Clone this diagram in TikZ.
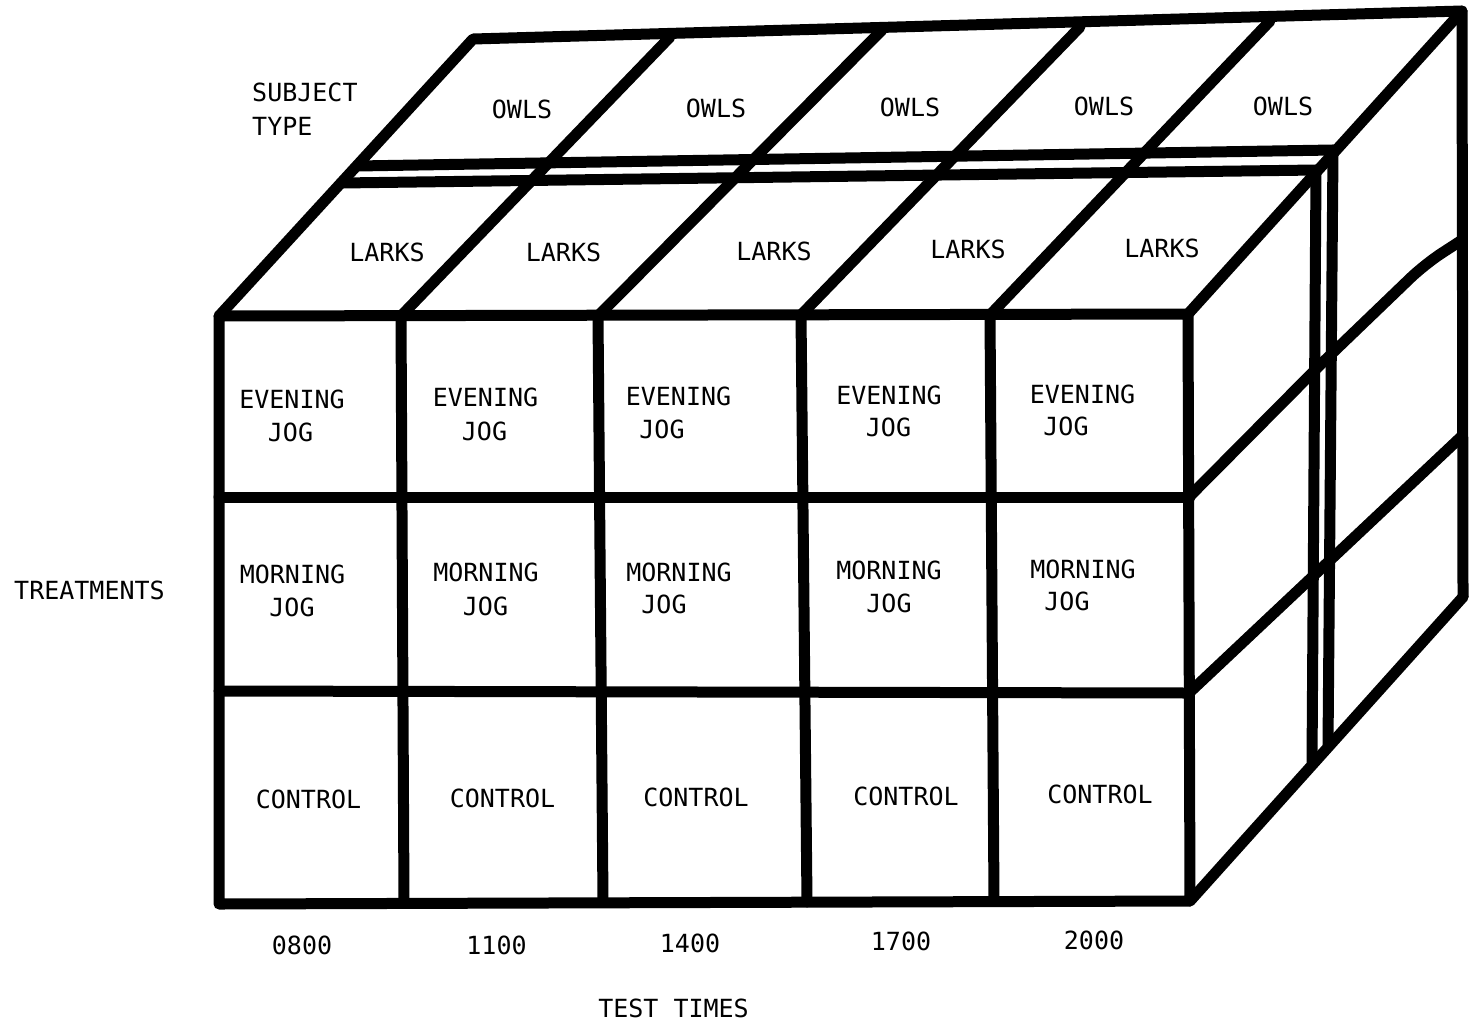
\documentclass[tikz,border=0pt]{standalone}
\usepackage{fontspec}
\newfontfamily\lblfont{DejaVu Sans Mono}
\begin{document}
\begin{tikzpicture}[x=1pt,y=-1pt,
  edge/.style={line width=11pt, line cap=round, line join=round},
  lbl/.style={font=\lblfont\fontsize{25}{30}\selectfont, anchor=base, inner sep=0pt},
  lblw/.style={lbl, anchor=base west}]
\useasboundingbox (0,0) rectangle (1471,1029);
% corners of the front face
\coordinate (FTL) at (219,316);
\coordinate (FTR) at (1188,314);
\coordinate (FBR) at (1190,901);
\coordinate (FBL) at (219,904);
% back corners
\coordinate (BTL) at (473,39);
\coordinate (BTR) at (1462,11);
\coordinate (BBR) at (1463,597);
% slab separation
\coordinate (LBL) at (341,183);
\coordinate (LBR) at (1316,170);
\coordinate (LBB) at (1312,762);
\coordinate (OFL) at (357,166);
\coordinate (OFR) at (1333,150);
\coordinate (OFB) at (1328,745);

% front face
\draw[edge] (FTL) -- (FTR) -- (FBR) -- (FBL) -- cycle;
\draw[edge] (219,497) -- (1190,497);
\draw[edge] (219,691) -- (1190,693);
\draw[edge] (401,316) -- (404,903);
\draw[edge] (598,316) -- (603,902);
\draw[edge] (801,315) -- (807,902);
\draw[edge] (990,315) -- (994,901);

% top face
\draw[edge] (FTL) -- (BTL) -- (BTR) -- (BBR);
\draw[edge] (FTR) -- (BTR);
\draw[edge] (401,316) -- (670,37);
\draw[edge] (598,316) -- (882,30);
\draw[edge] (801,315) -- (1080,27);
\draw[edge] (990,315) -- (1270,21);
\draw[edge] (LBL) -- (LBR);
\draw[edge] (OFL) -- (OFR);

% right face
\draw[edge] (LBR) -- (LBB);
\draw[edge] (OFR) -- (OFB);
\draw[edge, rounded corners=20pt] (1190,496) -- (1323,362) -- (1425,264) -- (1462,240);
\draw[edge] (1190,692) -- (1462,436);
\draw[edge] (FBR) -- (BBR);

% labels
\node[lblw] (subj) at (252,101.5) {SUBJECT};
\node[lblw] (type) at (252,135) {TYPE};
\node[lbl] (o1) at (522,118) {OWLS};
\node[lbl] (o2) at (716,117) {OWLS};
\node[lbl] (o3) at (910,116.5) {OWLS};
\node[lbl] (o4) at (1104,115) {OWLS};
\node[lbl] (o5) at (1283,115) {OWLS};
\node[lbl] (l1) at (387,261.5) {LARKS};
\node[lbl] (l2) at (563.5,261.5) {LARKS};
\node[lbl] (l3) at (774,260) {LARKS};
\node[lbl] (l4) at (968,258) {LARKS};
\node[lbl] (l5) at (1162,257) {LARKS};
\node[lbl] (e1) at (292,408) {EVENING};
\node[lbl] (e2) at (485.5,406.5) {EVENING};
\node[lbl] (e3) at (678.5,405.5) {EVENING};
\node[lbl] (e4) at (889,404) {EVENING};
\node[lbl] (e5) at (1082.5,403) {EVENING};
\node[lbl] (ej1) at (290.5,441) {JOG};
\node[lbl] (ej2) at (484.5,440) {JOG};
\node[lbl] (ej3) at (662,438) {JOG};
\node[lbl] (ej4) at (888.5,436.5) {JOG};
\node[lbl] (ej5) at (1066,435) {JOG};
\node[lbl] (m1) at (292.5,583) {MORNING};
\node[lbl] (m2) at (486,581.5) {MORNING};
\node[lbl] (m3) at (679,581) {MORNING};
\node[lbl] (m4) at (889,579) {MORNING};
\node[lbl] (m5) at (1083,578) {MORNING};
\node[lbl] (mj1) at (292,616) {JOG};
\node[lbl] (mj2) at (485.5,615) {JOG};
\node[lbl] (mj3) at (664,613) {JOG};
\node[lbl] (mj4) at (889,612) {JOG};
\node[lbl] (mj5) at (1067,610) {JOG};
\node[lbl] (c1) at (308.5,808.5) {CONTROL};
\node[lbl] (c2) at (502.5,807.5) {CONTROL};
\node[lbl] (c3) at (696,806) {CONTROL};
\node[lbl] (c4) at (906,805) {CONTROL};
\node[lbl] (c5) at (1100,803) {CONTROL};
\node[lbl] (t1) at (302,954) {0800};
\node[lbl] (t2) at (496.5,954) {1100};
\node[lbl] (t3) at (690,952) {1400};
\node[lbl] (t4) at (901,950) {1700};
\node[lbl] (t5) at (1094,949) {2000};
\node[lbl] (tt) at (673.5,1017) {TEST TIMES};
\node[lbl] (tr) at (89.5,599) {TREATMENTS};
\end{tikzpicture}
\end{document}
